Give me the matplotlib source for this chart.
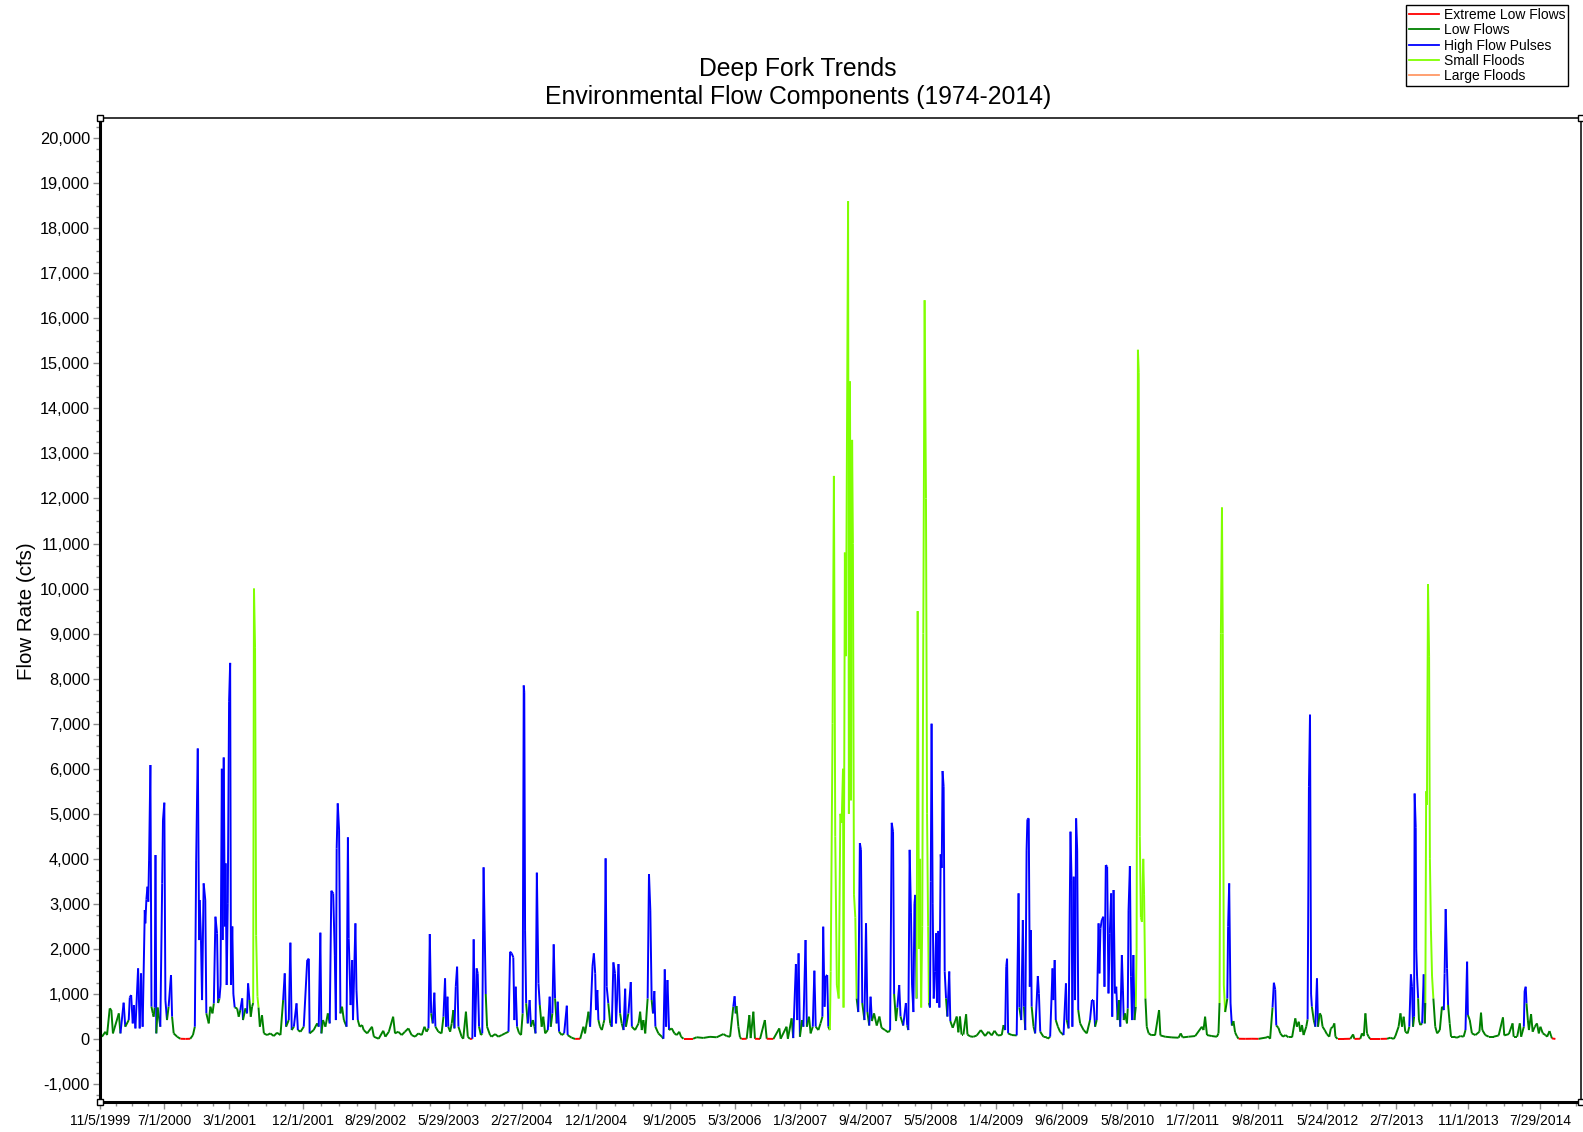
import numpy as np
import matplotlib
matplotlib.use('Agg')
import matplotlib.pyplot as plt
import matplotlib.dates as mdates
from matplotlib.collections import LineCollection
from matplotlib.lines import Line2D
from matplotlib.ticker import FuncFormatter, MultipleLocator, FixedLocator

plt.rcParams['font.family'] = ['Liberation Sans', 'DejaVu Sans']

# Daily record, Deep Fork: day offset from start of record, flow (cfs),
# and the flow component of each day (E/L/H/S/F)
record_start = np.datetime64('1999-11-05')
record_end = np.datetime64('2014-12-29')

day = [
    0, 6, 19, 25, 35, 41, 47, 69, 75, 87,
    93, 106, 110, 115, 121, 125, 131, 141, 147, 152,
    158, 166, 168, 172, 176, 179, 182, 187, 191, 196,
    199, 203, 206, 209, 214, 224, 231, 234, 239, 243,
    249, 255, 264, 268, 274, 287, 299, 318, 336, 346,
    353, 358, 364, 369, 371, 376, 380, 386, 392, 396,
    405, 411, 419, 424, 430, 436, 440, 445, 449, 454,
    457, 461, 465, 468, 472, 476, 481, 485, 488, 493,
    497, 502, 511, 517, 523, 530, 533, 542, 548, 552,
    557, 562, 567, 571, 574, 578, 582, 587, 591, 596,
    604, 611, 623, 635, 648, 660, 673, 683, 689, 694,
    704, 710, 715, 723, 733, 738, 748, 760, 773, 779,
    782, 797, 810, 816, 822, 826, 832, 841, 850, 857,
    863, 870, 876, 880, 883, 887, 892, 897, 903, 910,
    920, 925, 928, 935, 941, 944, 953, 957, 962, 969,
    978, 984, 997, 1015, 1022, 1040, 1057, 1065, 1078, 1094,
    1101, 1113, 1126, 1138, 1151, 1163, 1176, 1188, 1201, 1211,
    1219, 1226, 1231, 1236, 1242, 1248, 1252, 1263, 1275, 1282,
    1288, 1292, 1297, 1300, 1307, 1313, 1319, 1323, 1328, 1333,
    1338, 1350, 1356, 1366, 1373, 1381, 1390, 1395, 1400, 1406,
    1410, 1415, 1422, 1427, 1432, 1436, 1440, 1445, 1456, 1462,
    1475, 1487, 1500, 1512, 1525, 1531, 1537, 1543, 1547, 1552,
    1557, 1564, 1572, 1578, 1582, 1584, 1587, 1591, 1597, 1604,
    1609, 1616, 1622, 1626, 1631, 1637, 1642, 1649, 1655, 1662,
    1672, 1679, 1683, 1689, 1694, 1699, 1705, 1709, 1714, 1724,
    1733, 1743, 1746, 1761, 1774, 1793, 1805, 1811, 1824, 1830,
    1839, 1844, 1849, 1852, 1857, 1861, 1867, 1874, 1880, 1883,
    1888, 1892, 1898, 1905, 1911, 1917, 1923, 1927, 1936, 1942,
    1948, 1955, 1961, 1964, 1973, 1982, 1986, 1998, 2011, 2017,
    2023, 2029, 2036, 2045, 2050, 2055, 2060, 2065, 2070, 2074,
    2085, 2098, 2104, 2109, 2114, 2119, 2125, 2135, 2145, 2154,
    2163, 2170, 2179, 2197, 2203, 2215, 2228, 2253, 2278, 2303,
    2328, 2340, 2353, 2365, 2370, 2374, 2377, 2384, 2390, 2396,
    2415, 2425, 2430, 2440, 2446, 2465, 2483, 2490, 2515, 2537,
    2542, 2564, 2569, 2583, 2589, 2599, 2604, 2609, 2614, 2622,
    2627, 2635, 2640, 2648, 2654, 2662, 2668, 2673, 2683, 2691,
    2698, 2701, 2706, 2711, 2716, 2720, 2726, 2729, 2736, 2741,
    2746, 2752, 2759, 2765, 2770, 2775, 2777, 2782, 2786, 2794,
    2797, 2801, 2805, 2809, 2812, 2816, 2821, 2826, 2832, 2838,
    2842, 2847, 2855, 2861, 2866, 2873, 2878, 2883, 2891, 2901,
    2911, 2919, 2932, 2944, 2951, 2957, 2962, 2966, 2973, 2978,
    2985, 2990, 3000, 3010, 3015, 3019, 3024, 3029, 3033, 3038,
    3042, 3045, 3050, 3054, 3059, 3063, 3067, 3071, 3075, 3080,
    3085, 3089, 3093, 3096, 3100, 3103, 3106, 3110, 3114, 3119,
    3123, 3126, 3131, 3135, 3140, 3144, 3147, 3151, 3155, 3160,
    3165, 3172, 3176, 3185, 3194, 3200, 3206, 3212, 3218, 3225,
    3235, 3240, 3250, 3262, 3275, 3290, 3306, 3318, 3331, 3341,
    3353, 3368, 3375, 3381, 3385, 3388, 3392, 3406, 3424, 3431,
    3434, 3441, 3447, 3451, 3456, 3461, 3464, 3469, 3473, 3477,
    3480, 3487, 3493, 3503, 3507, 3512, 3524, 3537, 3540, 3549,
    3558, 3561, 3566, 3570, 3578, 3586, 3599, 3608, 3611, 3618,
    3625, 3629, 3632, 3637, 3642, 3646, 3650, 3654, 3661, 3674,
    3686, 3698, 3705, 3711, 3717, 3723, 3730, 3733, 3737, 3742,
    3748, 3752, 3757, 3762, 3767, 3772, 3777, 3781, 3786, 3791,
    3796, 3801, 3806, 3811, 3817, 3821, 3824, 3829, 3836, 3839,
    3842, 3847, 3851, 3855, 3860, 3864, 3869, 3872, 3877, 3880,
    3884, 3888, 3892, 3897, 3900, 3905, 3910, 3917, 3929, 3941,
    3956, 3961, 3979, 4004, 4029, 4037, 4044, 4066, 4091, 4116,
    4122, 4128, 4135, 4153, 4172, 4178, 4182, 4187, 4191, 4194,
    4198, 4203, 4211, 4214, 4218, 4223, 4228, 4234, 4240, 4247,
    4253, 4278, 4303, 4328, 4359, 4363, 4371, 4380, 4385, 4390,
    4394, 4402, 4409, 4419, 4428, 4440, 4453, 4465, 4471, 4478,
    4484, 4490, 4496, 4506, 4511, 4516, 4520, 4524, 4527, 4534,
    4540, 4546, 4550, 4556, 4561, 4567, 4575, 4583, 4592, 4598,
    4606, 4611, 4615, 4623, 4646, 4671, 4681, 4686, 4708, 4714,
    4721, 4727, 4733, 4739, 4745, 4783, 4808, 4820, 4833, 4839,
    4851, 4858, 4864, 4870, 4876, 4885, 4891, 4897, 4901, 4905,
    4909, 4911, 4915, 4917, 4920, 4924, 4927, 4932, 4939, 4945,
    4949, 4951, 4954, 4957, 4961, 4965, 4968, 4972, 4976, 4981,
    4988, 4995, 5005, 5013, 5020, 5023, 5027, 5032, 5036, 5042,
    5047, 5057, 5069, 5082, 5094, 5101, 5107, 5110, 5117, 5125,
    5138, 5153, 5159, 5164, 5175, 5188, 5206, 5225, 5241, 5246,
    5263, 5277, 5281, 5294, 5304, 5309, 5319, 5322, 5326, 5329,
    5334, 5338, 5346, 5352, 5360, 5368, 5375, 5381, 5390, 5400,
    5406, 5415, 5421, 5424, 5437,
]

flow = [
    60, 52, 163, 89, 681, 644, 126, 570, 126, 807,
    274, 422, 925, 977, 348, 755, 237, 1569, 237, 1458,
    274, 2864, 2568, 3101, 3382, 3049, 3974, 6083, 718, 570,
    496, 700, 4085, 126, 700, 274, 3456, 4862, 5247, 866,
    422, 718, 1421, 496, 126, 52, 7, 3, 7, 89,
    274, 3974, 6450, 2198, 3086, 2198, 866, 3456, 3086, 570,
    348, 718, 570, 792, 2716, 2346, 800, 900, 1200, 6000,
    2200, 6250, 2500, 3900, 1200, 3000, 7500, 8350, 1200, 2500,
    1000, 700, 681, 496, 644, 903, 422, 681, 570, 1236,
    866, 496, 718, 800, 10000, 8700, 2300, 940, 700, 274,
    530, 126, 89, 126, 67, 141, 89, 866, 1458, 274,
    422, 2139, 200, 274, 792, 200, 163, 274, 1754, 1783,
    126, 200, 348, 274, 2361, 126, 422, 274, 570, 348,
    3293, 3234, 1865, 422, 4233, 5232, 4640, 570, 718, 422,
    274, 4477, 2235, 755, 1754, 422, 2568, 1088, 422, 274,
    311, 200, 126, 274, 52, 7, 185, 52, 163, 496,
    126, 163, 89, 163, 237, 89, 52, 126, 89, 274,
    163, 237, 2331, 570, 348, 1029, 274, 163, 126, 496,
    1347, 274, 940, 274, 163, 348, 644, 237, 1162, 1606,
    274, 52, 7, 607, 52, 3, 7, 2213, 52, 1569,
    1458, 274, 89, 126, 3811, 2420, 1000, 274, 89, 52,
    111, 52, 89, 126, 163, 1939, 1902, 1813, 422, 1162,
    274, 141, 89, 570, 7850, 7700, 2420, 792, 348, 866,
    274, 422, 274, 126, 3693, 1236, 755, 274, 496, 126,
    200, 940, 274, 570, 2102, 900, 348, 829, 163, 89,
    126, 740, 89, 30, 3, 7, 274, 126, 607, 274,
    1620, 1902, 1458, 644, 1088, 422, 274, 200, 348, 422,
    4011, 1162, 792, 348, 274, 1702, 1458, 348, 1665, 570,
    348, 200, 1117, 274, 570, 1265, 274, 200, 348, 607,
    200, 422, 126, 900, 3663, 2864, 866, 570, 1066, 274,
    126, 52, 7, 1547, 274, 1310, 200, 237, 126, 89,
    163, 52, 7, 7, 7, 7, 40, 25, 50, 40,
    111, 67, 52, 718, 950, 570, 733, 274, 37, 3,
    7, 533, 22, 607, 7, 3, 422, 7, 3, 237,
    7, 274, 7, 459, 22, 1665, 422, 1902, 52, 422,
    274, 2198, 274, 496, 126, 274, 1517, 274, 200, 348,
    496, 2494, 718, 1400, 1421, 274, 200, 1500, 7000, 12500,
    4500, 1200, 900, 5000, 4800, 6000, 700, 10800, 8500, 18600,
    5000, 14600, 5300, 13300, 11000, 3200, 2700, 900, 600, 4350,
    4200, 800, 422, 2570, 600, 300, 940, 400, 570, 300,
    500, 250, 200, 150, 200, 4800, 4600, 1000, 400, 700,
    1200, 500, 300, 800, 300, 200, 4200, 2800, 1200, 600,
    3000, 3200, 900, 9500, 2000, 4000, 700, 2500, 9000, 16400,
    12000, 5000, 2500, 800, 700, 3500, 7000, 3000, 900, 1500,
    2350, 800, 2400, 700, 4100, 3800, 5950, 5600, 1500, 900,
    500, 1500, 400, 250, 400, 500, 150, 500, 100, 100,
    550, 100, 60, 50, 80, 200, 67, 163, 81, 185,
    81, 89, 311, 200, 1606, 1783, 126, 89, 81, 3234,
    700, 422, 2642, 718, 200, 4196, 4877, 4899, 1162, 2420,
    718, 274, 126, 1399, 1014, 163, 52, 37, 7, 52,
    1569, 866, 1754, 422, 274, 163, 89, 1236, 422, 237,
    4603, 3530, 274, 3604, 866, 4899, 4196, 644, 348, 200,
    126, 422, 866, 866, 274, 422, 2568, 1458, 2457, 2642,
    2716, 1162, 3863, 3826, 1014, 2346, 3234, 496, 3308, 1014,
    1162, 422, 866, 274, 1865, 1088, 422, 570, 348, 681,
    2864, 3841, 1384, 422, 1865, 422, 718, 2000, 15300, 14800,
    4500, 2700, 2600, 4000, 3200, 900, 274, 126, 81, 81,
    644, 81, 52, 37, 30, 126, 37, 52, 67, 274,
    200, 496, 89, 67, 52, 126, 800, 9000, 11800, 9000,
    1200, 600, 900, 2500, 3456, 800, 300, 400, 150, 60,
    7, 5, 7, 5, 37, 60, 7, 700, 1250, 1100,
    300, 250, 126, 52, 89, 37, 37, 459, 274, 385,
    163, 311, 89, 274, 437, 5600, 7200, 1000, 718, 422,
    274, 1347, 274, 570, 533, 274, 200, 111, 52, 237,
    274, 348, 52, 3, 3, 7, 104, 3, 7, 126,
    67, 570, 126, 52, 3, 3, 7, 30, 3, 67,
    274, 570, 274, 496, 163, 126, 274, 1436, 1162, 274,
    496, 5450, 4700, 2000, 1399, 903, 422, 311, 348, 1436,
    348, 800, 5500, 5200, 10100, 8500, 4000, 2400, 1400, 900,
    274, 126, 200, 718, 644, 1458, 2886, 1569, 755, 348,
    52, 52, 30, 67, 52, 200, 1717, 533, 422, 126,
    89, 163, 585, 200, 89, 52, 52, 81, 481, 81,
    111, 348, 52, 52, 348, 52, 274, 1066, 1162, 792,
    422, 200, 555, 163, 274, 348, 126, 274, 126, 89,
    52, 178, 67, 15, 3,
]

component = ''.join([
    'LLLLLLLLLH', 'LLHHLHLHLH', 'LHHHHHHHLL', 'LLHLLLHHHH', 'LLHLLLEEEL',
    'LHHHHHLHHL', 'LLLLHHLLHH', 'HHHHHHHHHH', 'HLLLLHLLLH', 'LLLLSSSSLL',
    'LLLLLLLLHL', 'LHLLHLLLHH', 'LLLLHLLLLL', 'HHHLHHHLLL', 'LHHLHLHHLL',
    'LLLLLELLLL', 'LLLLLLLLLL', 'LLHLLHLLLL', 'HLHLLLLLHH', 'LLELLEEHLH',
    'HLLLHHLLLL', 'LLLLLHHHLH', 'LLLLHHHLLH', 'LLLLHHLLLL', 'LHLLHLLHLL',
    'LHLLEELLLL', 'HHHLHLLLLL', 'HHLLLHHLHL', 'LLHLLHLLLL', 'LLLLHHLLHL',
    'LLEHLHLLLL', 'LLEEEELLLL', 'LLLLHLLLLE', 'ELLLEELEEL', 'ELELLHLHLL',
    'LHLLLLHLLL', 'LHLHHLLSSS', 'SSSSSSSSSS', 'SSSSSSSLLH', 'HLLHLLHLLL',
    'LLLLLHHLLL', 'HLLHLLHHHL', 'HHLSSSSSSS', 'SSSLLHHHHH', 'HLHLHHHHHL',
    'LHLLLLLLLL', 'LLLLLLLLLL', 'LLLLHHLLLH', 'LLHLLHHHHH', 'LLLHHLLLEL',
    'HLHLLLLHLL', 'HHLHLHHLLL', 'LLHHLLHHHH', 'HHHHHHHLHH', 'HLLLHHLLLL',
    'HHHLHLLSSS', 'SSSSSLLLLL', 'LLLLLLLLLL', 'LLLLLLLSSS', 'SLLHHHLLLL',
    'EEEELLELHH', 'LLLLLLLLLL', 'LLLLLHHHLL', 'LHLLLLLLLL', 'LLLEEELEEL',
    'LLLLEEELEL', 'LLLLLLLHHL', 'LHHHHLLLLH', 'LLSSSSSSSL', 'LLLLLHHHLL',
    'LLLLLLHLLL', 'LLLLLLLLLL', 'LLLLLLLHHL', 'LLLLLLLLLL', 'LLLEE',
])

component_codes = ['E', 'L', 'H', 'S', 'F']
component_names = ['Extreme Low Flows', 'Low Flows', 'High Flow Pulses',
                   'Small Floods', 'Large Floods']
component_colors = ['#ff0000', '#008000', '#0000ff', '#80ff00', '#ff9966']

tick_dates = ['1999-11-05', '2000-07-01', '2001-03-01', '2001-12-01',
              '2002-08-29', '2003-05-29', '2004-02-27', '2004-12-01',
              '2005-09-01', '2006-05-03', '2007-01-03', '2007-09-04',
              '2008-05-05', '2009-01-04', '2009-09-06', '2010-05-08',
              '2011-01-07', '2011-09-08', '2012-05-24', '2013-02-07',
              '2013-11-01', '2014-07-29']

# ---- build coloured line segments ----
dates = record_start + np.array(day).astype('timedelta64[D]')
x = mdates.date2num(dates)
y = np.array(flow, dtype=float)
rank = np.array([component_codes.index(c) for c in component])
seg_rank = np.maximum(rank[:-1], rank[1:])
segs = np.stack([np.column_stack([x[:-1], y[:-1]]),
                 np.column_stack([x[1:], y[1:]])], axis=1)
seg_colors = [component_colors[r] for r in seg_rank]

fig = plt.figure(figsize=(15.83, 11.32), dpi=100)
ax = fig.add_axes([0.0634, 0.0269, 0.9354, 0.8688])

lc = LineCollection(segs, colors=seg_colors, linewidths=1.4, zorder=2)
ax.add_collection(lc)

x0 = mdates.date2num(record_start)
x1 = mdates.date2num(record_end)
ax.set_xlim(x0, x1)
ax.set_ylim(-1387, 20444)

# y axis
ax.yaxis.set_major_locator(MultipleLocator(1000))
ax.yaxis.set_minor_locator(MultipleLocator(250))
ax.yaxis.set_major_formatter(FuncFormatter(lambda v, p: f'{v:,.0f}'))

# x axis: labelled dates plus three minor ticks in between
major = mdates.date2num(np.array(tick_dates, dtype='datetime64[D]'))
step = np.diff(major)
minor = [m + s * k / 4 for m, s in zip(major[:-1], step) for k in (1, 2, 3)]
minor += [major[-1] + step[-1] * k / 4 for k in (1, 2, 3, 4, 5)]
ax.xaxis.set_major_locator(FixedLocator(major))
ax.xaxis.set_minor_locator(FixedLocator([m for m in minor if m < x1]))
labels = [f'{d.month}/{d.day}/{d.year}' for d in mdates.num2date(major)]
ax.set_xticklabels(labels)

ax.tick_params(axis='both', which='major', direction='out', length=5,
               width=1, color='#8c8c8c')
ax.tick_params(axis='both', which='minor', direction='out', length=3.2,
               width=1, color='#8c8c8c')
ax.tick_params(axis='y', which='major', labelsize=11.8, pad=2.5)
ax.tick_params(axis='x', which='major', labelsize=10, pad=4)

ax.spines['left'].set_linewidth(2.2)
ax.spines['bottom'].set_linewidth(2.2)
ax.spines['top'].set_linewidth(1.1)
ax.spines['right'].set_linewidth(1.1)
for s in ax.spines.values():
    s.set_zorder(3)

# small square handles at the plot corners
ax.plot([0, 0, 1, 1], [0, 1, 0, 1], 's', transform=ax.transAxes,
        ms=5, mfc='white', mec='black', mew=1, clip_on=False, zorder=5)

fig.text(0.504, 1 - 83 / 1132,
         'Deep Fork Trends\nEnvironmental Flow Components (1974-2014)',
         ha='center', va='center', fontsize=17.8, linespacing=1.24)
fig.text(26.5 / 1583, 1 - 611 / 1132, 'Flow Rate (cfs)', rotation=90,
         ha='center', va='center', fontsize=14.8)

handles = [Line2D([], [], color=c, lw=1.3) for c in component_colors]
leg = fig.legend(handles, component_names, loc='upper left',
                 bbox_to_anchor=(1406 / 1583, 1 - 5 / 1132),
                 fontsize=10, frameon=True, fancybox=False,
                 edgecolor='black', framealpha=1, borderpad=0.2,
                 labelspacing=0.1, handlelength=2.2, handletextpad=0.35,
                 borderaxespad=0)
leg.get_frame().set_linewidth(1.0)

fig.savefig('out.png', dpi=100)
